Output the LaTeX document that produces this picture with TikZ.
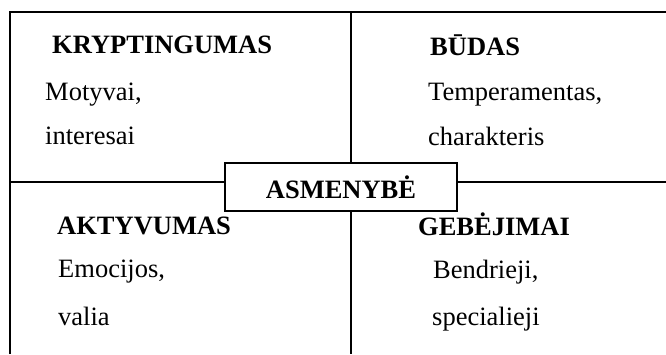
\documentclass[tikz,border=0pt]{standalone}
\usepackage{fontspec}
\setmainfont{Liberation Serif}
\begin{document}
\begin{tikzpicture}[x=1pt,y=-1pt,
  gridline/.style={line width=2pt,black},
  head/.style={anchor=base west,inner sep=0pt,font=\fontsize{26.5}{30}\selectfont\bfseries},
  body/.style={anchor=base west,inner sep=0pt,font=\fontsize{26.5}{30}\selectfont},
  centerbox/.style={draw,line width=1.2pt,fill=white,minimum width=232pt,minimum height=48pt,inner sep=0pt,font=\fontsize{26.5}{30}\selectfont\bfseries}]
\useasboundingbox (0,0) rectangle (666,354);
\fill[white] (0,0) rectangle (666,354);
% grid
\coordinate (tl) at (10,12);
\coordinate (tr) at (666,12);
\coordinate (bl) at (10,354);
\coordinate (ml) at (10,182);
\coordinate (mr) at (666,182);
\coordinate (mt) at (351,12);
\coordinate (mb) at (351,354);
\draw[gridline] (bl) -- (tl) -- (tr);
\draw[gridline] (ml) -- (mr);
\draw[gridline] (mt) -- (mb);
% quadrants
\node[head] (k) at (52,53) {KRYPTINGUMAS};
\node[body] (k1) at (45,100) {Motyvai,};
\node[body] (k2) at (45,144) {interesai};
\node[head] (b) at (430,55) {BŪDAS};
\node[body] (b1) at (428,100) {Temperamentas,};
\node[body] (b2) at (428,145) {charakteris};
\node[head] (a) at (57,234) {AKTYVUMAS};
\node[body] (a1) at (58,277) {Emocijos,};
\node[body] (a2) at (58,325) {valia};
\node[head] (g) at (418,235) {GEBĖJIMAI};
\node[body] (g1) at (433,278) {Bendrieji,};
\node[body] (g2) at (432,325) {specialieji};
% centre
\node[centerbox] (c) at (341,187) {ASMENYBĖ};
\end{tikzpicture}
\end{document}
